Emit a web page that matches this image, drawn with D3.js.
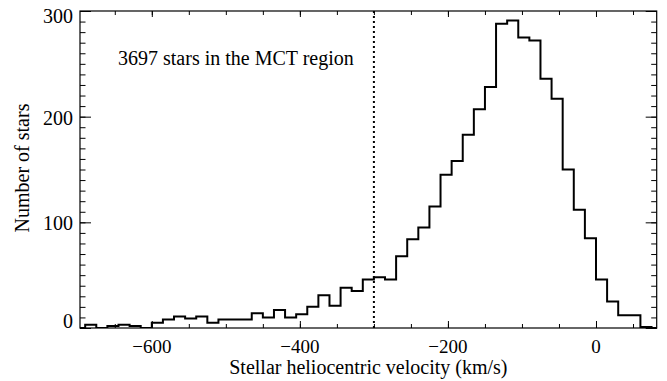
<!DOCTYPE html>
<html>
<head>
<meta charset="utf-8">
<script src="https://cdn.jsdelivr.net/npm/d3@7"></script>
<style>
  body { margin: 0; background: #fff; }
  text { font-family: "Liberation Serif", "Times New Roman", serif; fill: #000; }
</style>
</head>
<body>
<div id="plot"></div>
<script>
// left edge of each 15 km/s velocity bin
var binLeft = [-705, -690, -675, -660, -645, -630, -615, -600, -585, -570,
  -555, -540, -525, -510, -495, -480, -465, -450, -435, -420,
  -405, -390, -375, -360, -345, -330, -315, -300, -285, -270,
  -255, -240, -225, -210, -195, -180, -165, -150, -135, -120,
  -105, -90, -75, -60, -45, -30, -15, 0, 15, 30,
  45, 60, 75];
var binWidth = 15;
// number of stars in each bin
var counts = [0, 3, 0, 2, 3, 2, 0, 5, 8, 11,
  9, 11, 5, 8, 8, 8, 14, 10, 17, 10,
  13, 20, 31, 21, 38, 35, 46, 48, 46, 68,
  84, 95, 115, 145, 158, 183, 207, 228, 288, 291,
  275, 272, 236, 217, 150, 112, 85, 46, 25, 12,
  12, 1, 0];

var xTicks = [-600, -400, -200, 0];
var yTicks = [0, 100, 200, 300];
var cutVelocity = -300;
var label = "3697 stars in the MCT region";

/*********************** Plot Below *********************/
var W = 667, H = 381;
var margin = { top: 11, right: 10.3, bottom: 53, left: 80 };
var width = W - margin.left - margin.right,
  height = H - margin.top - margin.bottom;

var xScale = d3.scaleLinear().domain([-697, 82]).range([0, width]);
var yScale = d3.scaleLinear().domain([0, 300]).range([height, 0]);

var svg = d3.select("#plot").append("svg")
  .attr("width", W)
  .attr("height", H);

svg.append("defs").append("clipPath").attr("id", "clip")
  .append("rect").attr("width", width).attr("height", height);

var g = svg.append("g")
  .attr("transform", "translate(" + margin.left + "," + margin.top + ")");

// histogram as steps
var steps = [];
binLeft.forEach(function (b, i) {
  steps.push({ x: b, y: counts[i] });
  steps.push({ x: b + binWidth, y: counts[i] });
});
var stepLine = d3.line()
  .x(function (d) { return xScale(d.x); })
  .y(function (d) { return yScale(d.y); });

g.append("path")
  .datum(steps)
  .attr("clip-path", "url(#clip)")
  .attr("d", stepLine)
  .attr("fill", "none")
  .attr("stroke", "#000")
  .attr("stroke-width", 2)
  .attr("stroke-linejoin", "miter");

// dotted cut line
g.append("line")
  .attr("x1", xScale(cutVelocity)).attr("x2", xScale(cutVelocity))
  .attr("y1", yScale(0)).attr("y2", yScale(300))
  .attr("stroke", "#000")
  .attr("stroke-width", 2)
  .attr("stroke-dasharray", "2,3");

// axes: ticks on all four sides
var xMinor = d3.range(-650, 82, 50);
var yMinor = d3.range(0, 301, 10);

g.append("g").attr("transform", "translate(0," + height + ")")
  .call(d3.axisTop(xScale).tickValues(xMinor).tickSize(4).tickFormat(""));
g.append("g").attr("transform", "translate(0," + height + ")")
  .call(d3.axisTop(xScale).tickValues(xTicks).tickSize(7).tickFormat(""));
g.append("g")
  .call(d3.axisBottom(xScale).tickValues(xMinor).tickSize(4).tickFormat(""));
g.append("g")
  .call(d3.axisBottom(xScale).tickValues(xTicks).tickSize(6).tickFormat(""));
g.append("g")
  .call(d3.axisRight(yScale).tickValues(yMinor).tickSize(5.5).tickFormat(""));
g.append("g")
  .call(d3.axisRight(yScale).tickValues(yTicks).tickSize(11).tickFormat(""));
g.append("g").attr("transform", "translate(" + width + ",0)")
  .call(d3.axisLeft(yScale).tickValues(yMinor).tickSize(5.5).tickFormat(""));
g.append("g").attr("transform", "translate(" + width + ",0)")
  .call(d3.axisLeft(yScale).tickValues(yTicks).tickSize(11).tickFormat(""));

g.selectAll(".domain").remove();
g.selectAll(".tick line").attr("stroke", "#000").attr("stroke-width", 1);

g.append("rect")
  .attr("width", width).attr("height", height)
  .attr("fill", "none").attr("stroke", "#000").attr("stroke-width", 1.2);

// tick labels
g.selectAll(".xlab").data(xTicks).enter().append("text")
  .attr("x", function (d) { return xScale(d); })
  .attr("y", height + 25)
  .attr("text-anchor", "middle")
  .style("font-size", "19px")
  .text(function (d) { return d < 0 ? "\u2212" + Math.abs(d) : d; });

g.selectAll(".ylab").data(yTicks).enter().append("text")
  .attr("x", -7)
  .attr("y", function (d) {
    var off = 8;
    if (d == 300) off = 12;
    if (d == 0) off = 0;
    return yScale(d) + off;
  })
  .attr("text-anchor", "end")
  .style("font-size", "20px")
  .text(function (d) { return d; });

// titles
svg.append("text")
  .attr("x", margin.left + width / 2)
  .attr("y", 374)
  .attr("text-anchor", "middle")
  .style("font-size", "20px")
  .text("Stellar heliocentric velocity (km/s)");

svg.append("text")
  .attr("transform", "translate(29," + 168 + ") rotate(-90)")
  .attr("text-anchor", "middle")
  .style("font-size", "20px")
  .text("Number of stars");

svg.append("text")
  .attr("x", 118)
  .attr("y", 65)
  .style("font-size", "20px")
  .text(label);
</script>
</body>
</html>
